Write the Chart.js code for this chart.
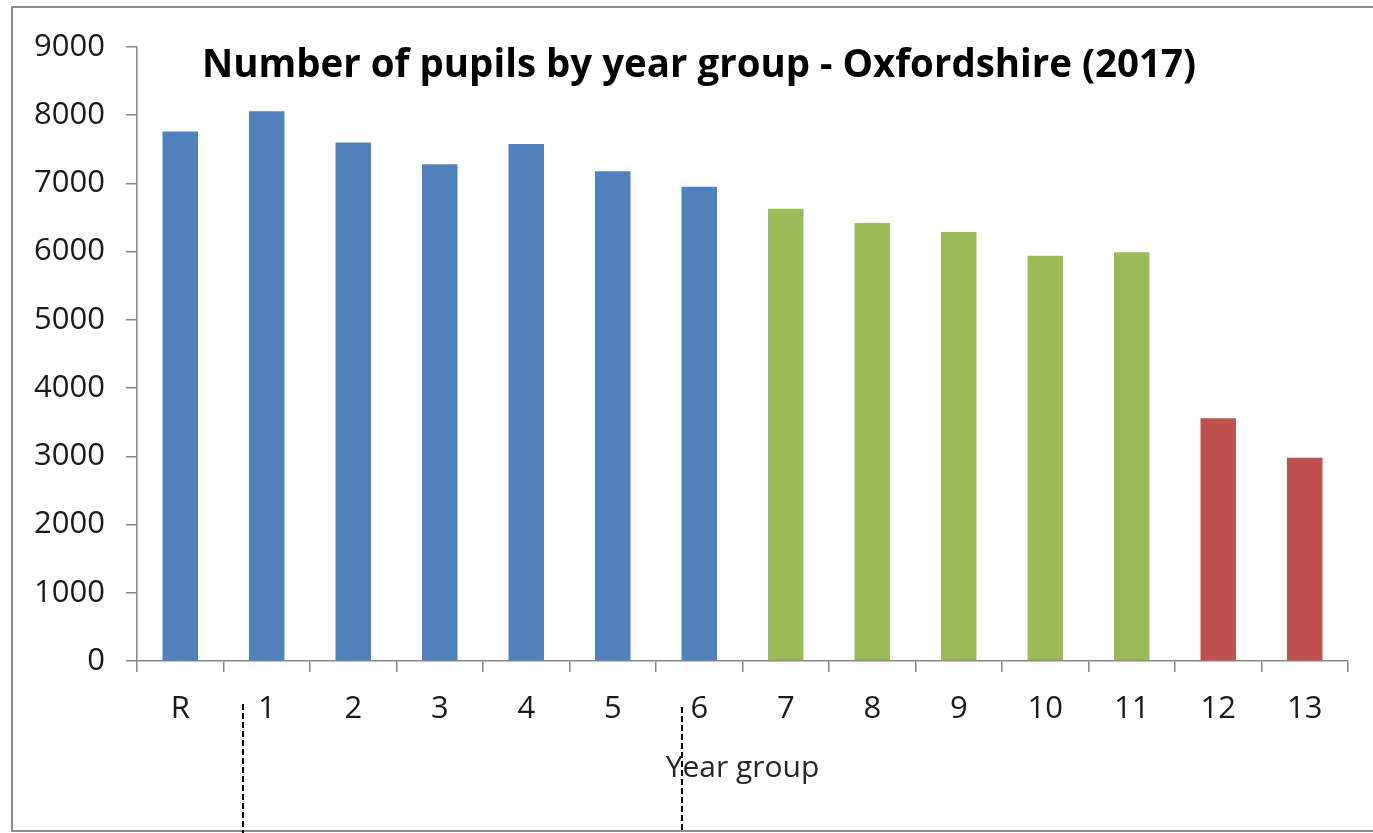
<!DOCTYPE html>
<html>
<head>
<meta charset="utf-8">
<title>Number of pupils by year group - Oxfordshire (2017)</title>
<script src="https://cdn.jsdelivr.net/npm/chart.js@4"></script>
<style>
  html, body { margin: 0; padding: 0; background: #fff; overflow: hidden; }
  #wrap { position: relative; width: 1373px; height: 833px; }
</style>
</head>
<body>
<div id="wrap"><canvas id="myChart" width="1373" height="833"></canvas></div>
<script>
// data
const yearGroups = ['R', '1', '2', '3', '4', '5', '6', '7', '8', '9', '10', '11', '12', '13'];
const pupils = [7760, 8060, 7600, 7280, 7580, 7180, 6950, 6630, 6420, 6290, 5940, 5990, 3560, 2980];
const phase = ['primary', 'primary', 'primary', 'primary', 'primary', 'primary', 'primary',
               'secondary', 'secondary', 'secondary', 'secondary', 'secondary',
               'sixth', 'sixth'];
const yTicks = [0, 1000, 2000, 3000, 4000, 5000, 6000, 7000, 8000, 9000];

const chartTitle = 'Number of pupils by year group - Oxfordshire (2017)';
const phaseColours = { primary: '#4F81BD', secondary: '#9BBB59', sixth: '#C0504D' };
const axisGrey = '#868686';
const fontFamily = '"Open Sans", "Noto Sans", sans-serif';

// frame, title and the two dashed markers
const extras = {
    id: 'extras',
    beforeDraw(chart) {
        const c = chart.ctx;
        c.save();
        c.fillStyle = '#fff';
        c.fillRect(0, 0, chart.width, chart.height);
        c.strokeStyle = '#8c8c8c';
        c.lineWidth = 2;
        c.strokeRect(12, 7, chart.width + 20, 824);
        c.restore();
    },
    afterDraw(chart) {
        const c = chart.ctx;
        const x = chart.scales.x;
        c.save();
        // title
        c.font = 'bold 40px ' + fontFamily;
        c.fillStyle = '#000';
        c.textBaseline = 'alphabetic';
        const w = c.measureText(chartTitle).width;
        const targetW = 994;
        c.translate(202, 77);
        c.scale(targetW / w, 1);
        c.fillText(chartTitle, 0, 0);
        c.restore();

        // dashed markers under the axis
        c.save();
        c.strokeStyle = '#000';
        c.lineWidth = 2;
        c.setLineDash([6, 3]);
        [[0.72, 704], [5.8, 707]].forEach(([v, top]) => {
            const px = Math.round(x.getPixelForValue(v));
            c.beginPath();
            c.moveTo(px, top);
            c.lineTo(px, chart.height);
            c.stroke();
        });
        c.restore();
    }
};

const ctx = document.getElementById('myChart');

new Chart(ctx, {
    type: 'bar',
    data: {
        labels: yearGroups,
        datasets: [{
            label: 'Pupils',
            data: pupils,
            backgroundColor: phase.map(p => phaseColours[p]),
            borderWidth: 0,
            barPercentage: 0.41,
            categoryPercentage: 1
        }]
    },
    options: {
        responsive: false,
        animation: false,
        layout: { padding: { top: 47, right: 25, left: 0, bottom: 0 } },
        plugins: {
            legend: { display: false },
            title: { display: false },
            tooltip: { enabled: false }
        },
        scales: {
            x: {
                afterFit(s) { s.height = 172; },
                grid: {
                    offset: true,
                    drawOnChartArea: false,
                    drawTicks: true,
                    tickLength: 11,
                    color: axisGrey,
                    lineWidth: 1.5
                },
                border: { color: axisGrey, width: 1.5 },
                ticks: {
                    padding: 19,
                    color: '#1a1a1a',
                    font: { family: fontFamily, size: 31 }
                },
                title: {
                    display: true,
                    text: 'Year group',
                    color: '#262626',
                    font: { family: fontFamily, size: 30 },
                    padding: { top: 0, bottom: 47 }
                }
            },
            y: {
                min: 0,
                max: 9000,
                afterFit(s) { s.width = 137; },
                afterBuildTicks(s) { s.ticks = yTicks.map(v => ({ value: v })); },
                grid: {
                    drawOnChartArea: false,
                    drawTicks: true,
                    tickLength: 11,
                    color: axisGrey,
                    lineWidth: 1.5
                },
                border: { color: axisGrey, width: 1.5 },
                ticks: {
                    padding: 21,
                    color: '#1a1a1a',
                    font: { family: fontFamily, size: 31 },
                    callback: v => String(v)
                }
            }
        }
    },
    plugins: [extras]
});
</script>
</body>
</html>
